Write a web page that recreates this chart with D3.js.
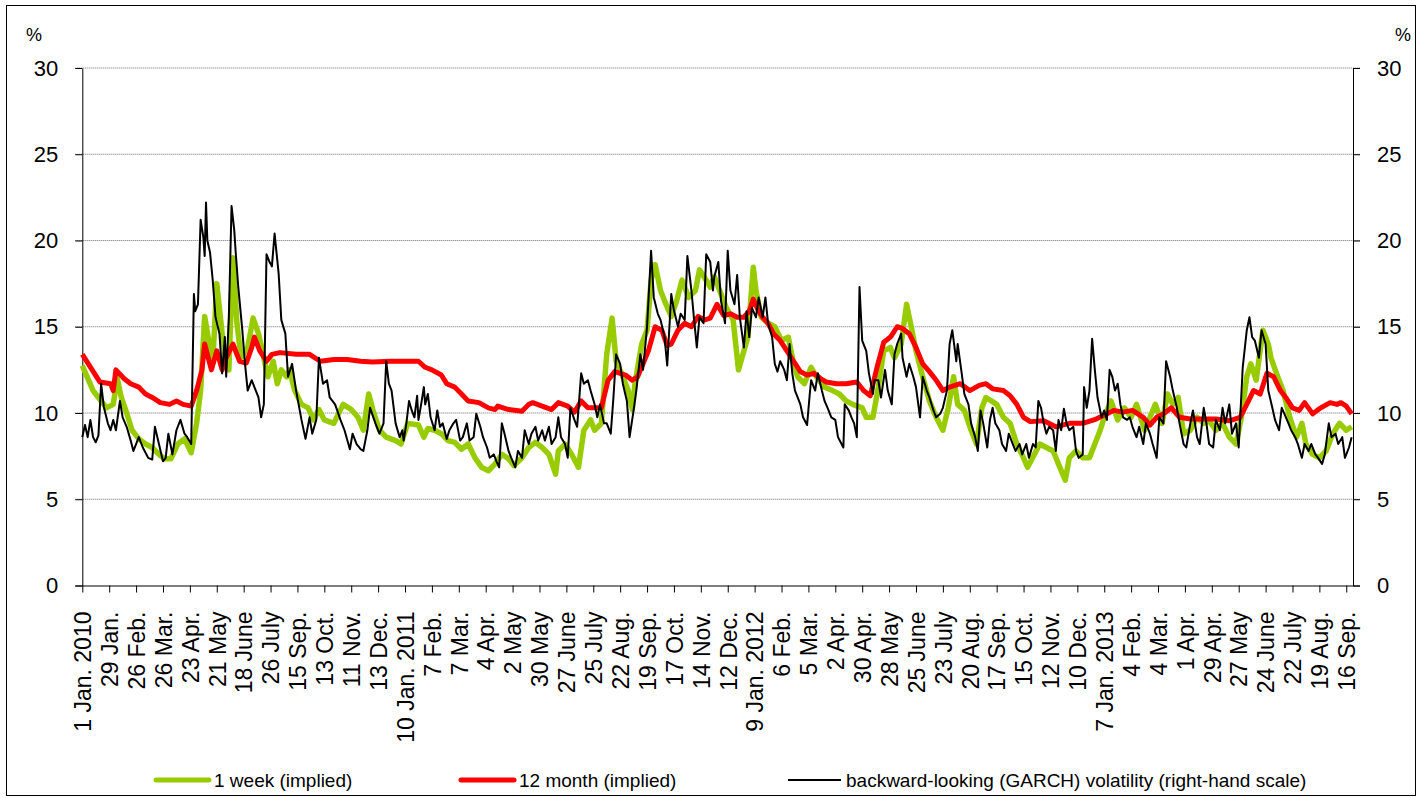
<!DOCTYPE html>
<html>
<head>
<meta charset="utf-8">
<script src="https://cdn.jsdelivr.net/npm/d3@7"></script>
<style>
  html, body { margin: 0; padding: 0; background: #fff; }
  svg { display: block; font-family: "Liberation Sans", Arial, sans-serif; }
</style>
</head>
<body>
<svg id="chart" width="1422" height="798"></svg>
<script>
// ---- Data (trading-day index, value in %) ----
const tickLabels = ["1 Jan. 2010","29 Jan.","26 Feb.","26 Mar.","23 Apr.","21 May","18 June","26 July","15 Sep.","13 Oct.","11 Nov.","13 Dec.",
  "10 Jan. 2011","7 Feb.","7 Mar.","4 Apr.","2 May","30 May","27 June","25 July","22 Aug.","19 Sep.","17 Oct.","14 Nov.","12 Dec.",
  "9 Jan. 2012","6 Feb.","5 Mar.","2 Apr.","30 Apr.","28 May","25 June","23 July","20 Aug.","17 Sep.","15 Oct.","12 Nov.","10 Dec.",
  "7 Jan. 2013","4 Feb.","4 Mar.","1 Apr.","29 Apr.","27 May","24 June","22 July","19 Aug.","16 Sep."];
const daysPerTick = 20;
const lastDay = 945;
const yTicks = [0, 5, 10, 15, 20, 25, 30];

const week1 = [[0,12.75],[8,11.3],[12,10.9],[18,10.3],[23,10.5],[26,12.0],[29,10.9],[33,10.0],[37,9.0],[42,8.5],[47,8.2],[52,8.0],[57,7.6],[61,7.35],[66,7.35],[71,8.2],[76,8.5],[81,7.7],[85,9.4],[88,11.3],[91,15.6],[94,14.2],[97,12.85],[100,17.5],[104,14.6],[107,12.85],[109,12.5],[112,19.0],[115,15.2],[118,13.2],[123,13.8],[127,15.5],[131,14.6],[135,13.2],[138,12.1],[142,13.0],[145,11.7],[148,12.5],[152,12.1],[154,12.5],[158,11.3],[163,10.5],[168,10.3],[172,9.6],[176,10.2],[180,9.6],[187,9.4],[194,10.5],[200,10.2],[205,9.75],[209,9.0],[213,11.1],[216,10.2],[221,9.0],[226,8.6],[233,8.4],[237,8.2],
  [242,9.4],[250,9.3],[254,8.6],[257,9.1],[262,9.0],[267,8.8],[272,8.4],[277,8.3],[282,7.9],[287,8.2],[292,7.4],[297,6.85],[302,6.65],[307,7.05],[312,7.6],[317,7.35],[321,6.95],[327,7.4],[332,8.0],[337,8.3],[342,8.0],[347,7.6],[352,6.45],[354,7.8],[359,8.2],[364,7.6],[369,6.85],[373,9.0],[378,9.6],[381,9.0],[386,9.4],[390,13.4],[394,15.5],[397,13.0],[401,12.3],[406,11.3],[409,10.2],[411,11.7],[416,14.0],[420,14.8],[423,17.7],[426,18.6],[430,17.1],[433,16.5],[438,15.6],[442,16.5],[446,17.7],[451,16.7],[456,17.1],[459,18.3],[464,17.7],
  [467,17.3],[470,17.9],[474,17.1],[479,16.1],[484,15.4],[488,12.5],[492,13.6],[495,14.4],[499,18.45],[501,17.1],[505,15.55],[510,15.2],[515,15.0],[520,14.2],[525,14.4],[529,12.85],[532,12.1],[537,11.7],[542,12.65],[546,12.1],[552,11.5],[558,11.3],[563,11.1],[568,10.7],[573,10.5],[580,10.3],[583,9.75],[588,9.75],[592,11.5],[596,13.6],[601,13.8],[604,13.2],[609,14.0],[613,16.3],[617,14.8],[620,13.6],[625,12.1],[630,10.7],[635,9.75],[640,9.0],[644,10.3],[648,12.1],[651,10.5],[656,10.15],[661,9.0],[665,8.2],[669,10.3],[672,10.9],[676,10.7],[680,10.5],[685,9.75],[690,9.4],[695,8.2],[700,7.4],[703,6.85],
  [708,7.6],[712,8.2],[717,8.0],[722,7.8],[727,6.85],[731,6.1],[734,7.4],[739,7.8],[744,7.4],[749,7.4],[753,8.2],[757,9.0],[760,9.75],[765,10.7],[770,9.6],[775,10.3],[780,9.75],[784,10.5],[790,9.0],[794,9.75],[798,10.5],[803,9.4],[807,11.1],[811,10.5],[815,10.9],[819,8.8],[824,9.0],[829,9.75],[834,9.4],[838,9.55],[843,9.0],[848,9.4],[853,8.6],[858,8.2],[862,9.75],[866,12.1],[869,12.85],[873,11.9],[878,14.8],[882,14.0],[884,13.2],[889,12.1],[893,11.3],[898,9.75],[903,8.6],[907,9.4],[910,8.2],[915,7.6],[920,7.4],[925,7.8],[930,8.8],[935,9.4],[940,9.0],[944,9.2]];

const month12 = [[0,13.4],[13,11.8],[21,11.7],[23,11.3],[25,12.5],[31,12.0],[36,11.7],[42,11.5],[47,11.1],[52,10.9],[58,10.6],[65,10.5],[70,10.7],[75,10.5],[81,10.4],[85,11.3],[89,12.5],[91,14.0],[96,12.5],[100,13.6],[104,12.5],[107,13.2],[112,14.0],[117,13.0],[122,12.9],[126,13.8],[128,14.4],[132,13.6],[137,13.0],[141,13.4],[147,13.5],[159,13.4],[169,13.4],[177,13.0],[187,13.1],[197,13.1],[207,13.0],[216,12.95],[229,13.0],[236,13.0],
  [250,13.0],[255,12.65],[260,12.5],[267,12.2],[271,11.7],[277,11.5],[282,11.1],[287,10.7],[295,10.6],[302,10.3],[307,10.2],[309,10.4],[317,10.2],[327,10.1],[332,10.5],[335,10.6],[342,10.4],[349,10.2],[354,10.6],[361,10.4],[366,10.05],[371,10.7],[376,10.3],[386,10.3],[391,11.9],[396,12.4],[404,12.2],[409,11.9],[413,12.1],[417,12.85],[421,13.6],[426,15.0],[431,14.8],[435,13.9],[438,14.0],[443,14.8],[448,15.2],[453,15.0],[458,15.6],[463,15.4],[467,15.5],
  [472,16.3],[477,15.65],[482,15.75],[487,15.55],[492,15.55],[496,15.9],[499,16.6],[503,15.9],[506,15.55],[510,15.2],[514,14.6],[519,14.2],[524,13.6],[529,13.0],[534,12.4],[539,12.2],[544,12.3],[549,12.0],[553,11.8],[561,11.7],[568,11.7],[576,11.8],[581,11.3],[586,11.0],[591,12.65],[596,14.1],[601,14.4],[606,15.0],[610,14.9],[615,14.6],[620,13.8],[625,12.85],[630,12.4],[635,11.9],[640,11.3],[645,11.5],[653,11.7],[660,11.3],[667,11.6],[672,11.7],[677,11.4],[685,11.3],[690,11.0],[695,10.5],[700,9.75],[705,9.5],
  [715,9.55],[724,9.2],[734,9.4],[744,9.4],[754,9.65],[762,9.95],[767,10.15],[774,10.05],[781,10.15],[789,9.75],[794,9.3],[799,9.75],[804,9.95],[810,10.3],[816,9.75],[824,9.65],[834,9.65],[843,9.65],[853,9.55],[861,9.75],[866,10.5],[871,11.3],[876,11.1],[881,12.3],[886,12.1],[891,11.3],[895,10.9],[900,10.3],[905,10.15],[909,10.6],[915,9.95],[920,10.25],[928,10.6],[933,10.5],[936,10.6],[940,10.4],[944,9.95]];

const garch = [[0,8.6],[2,9.3],[4,8.6],[6,9.6],[8,8.6],[10,8.3],[12,8.7],[14,11.7],[16,10.35],[19,9.4],[21,9.0],[23,9.6],[25,9.0],[28,10.7],[30,9.75],[33,9.2],[36,8.4],[38,7.8],[40,8.2],[42,8.6],[45,8.0],[49,7.4],[52,7.3],[54,9.2],[57,8.2],[60,7.2],[62,7.4],[64,8.8],[67,7.6],[70,9.0],[73,9.6],[76,8.8],[78,8.6],[81,8.2],[83,16.9],[84,15.9],[86,16.3],[88,21.2],[90,20.2],[91,19.1],[92,22.2],[93,20.0],[95,19.3],[97,17.7],[99,15.6],[102,14.6],[104,12.3],[106,14.4],[107,12.1],[109,15.6],[111,22.0],[113,20.6],[114,19.4],[116,17.3],[119,14.8],[121,12.85],[123,11.3],[126,11.9],[128,11.5],[131,10.9],[133,9.75],[135,10.5],[137,19.2],[139,18.8],[141,18.5],[143,20.4],[146,18.1],[148,15.4],[151,14.6],[153,12.1],[156,12.85],[159,11.3],[163,9.6],[166,8.5],[169,9.75],[171,8.8],[174,9.6],[176,13.2],[179,11.7],[182,11.9],[184,10.9],[188,10.5],[192,9.6],[195,9.0],[199,7.9],[201,8.8],[204,8.2],[207,7.9],[209,7.8],[212,9.0],[214,10.3],[218,9.4],[221,8.8],[224,9.4],[226,13.0],[228,11.7],[230,11.3],[233,9.4],[236,8.6],
  [238,9.0],[239,8.4],[241,9.4],[243,10.7],[245,10.15],[247,9.75],[249,11.0],[250,9.6],[252,10.5],[254,11.5],[255,10.5],[257,11.1],[259,9.75],[262,9.0],[264,10.15],[266,9.2],[268,9.4],[271,8.5],[273,9.0],[276,9.4],[278,9.6],[281,8.4],[283,8.6],[286,9.4],[288,8.4],[291,8.6],[293,9.95],[296,9.2],[298,8.6],[301,8.0],[303,7.4],[306,7.6],[308,7.2],[310,6.85],[312,9.4],[314,8.8],[317,7.8],[319,7.4],[322,6.85],[324,7.8],[327,7.4],[329,9.0],[332,8.2],[334,8.8],[337,9.2],[339,8.4],[342,9.0],[344,8.4],[347,9.2],[349,8.2],[352,8.6],[354,9.75],[356,8.6],[359,8.2],[361,7.4],[363,10.3],[366,9.6],[368,9.2],[371,12.3],[373,11.7],[376,11.9],[378,11.3],[381,10.5],[383,9.75],[385,10.5],[388,9.4],[390,9.4],[393,8.8],[395,10.9],[397,13.4],[400,12.85],[402,11.7],[405,10.7],[407,8.6],[410,10.15],[412,11.3],[415,13.4],[417,12.5],[420,15.0],[423,19.4],[425,16.7],[428,15.75],[430,15.4],[433,14.4],[435,12.75],[438,16.9],[440,15.95],[443,15.0],[445,15.75],[448,15.4],[450,19.1],[453,17.1],[455,15.4],[457,13.8],[459,15.55],[462,15.2],[464,19.2],
  [467,18.75],[469,17.1],[470,17.9],[473,18.75],[475,16.5],[478,15.2],[480,19.4],[482,17.1],[485,16.3],[487,18.0],[489,15.55],[492,13.8],[494,15.9],[496,14.4],[498,16.1],[501,15.55],[503,16.7],[506,15.55],[508,16.7],[510,15.2],[513,14.4],[515,12.85],[517,12.4],[519,13.0],[522,12.5],[524,11.9],[526,14.0],[528,12.3],[530,11.3],[532,10.9],[534,10.5],[536,9.75],[539,9.3],[541,11.1],[542,11.9],[545,11.3],[547,12.3],[550,11.3],[552,10.7],[555,10.15],[557,9.75],[560,9.6],[562,8.6],[566,8.0],[567,10.5],[570,10.15],[572,9.75],[574,9.4],[576,8.6],[578,17.3],[580,14.2],[583,13.6],[585,12.3],[588,11.1],[589,11.9],[592,11.9],[594,10.9],[597,12.5],[599,11.3],[602,10.5],[604,13.4],[606,14.0],[609,14.6],[610,13.2],[613,12.1],[615,12.85],[618,12.1],[620,11.5],[623,9.75],[625,12.1],[628,11.3],[630,10.9],[633,10.15],[635,9.75],[638,9.95],[640,10.3],[643,11.3],[645,14.0],[647,14.8],[650,13.0],[651,14.0],[654,12.3],[656,11.1],[659,10.5],[661,9.4],[664,8.6],[666,7.8],[668,10.15],[670,9.4],[673,8.0],[675,9.6],[677,10.3],[679,9.4],[682,9.0],[684,8.2],[687,7.8],[689,8.8],[692,8.2],[694,7.8],[697,8.2],[699,7.6],[702,8.2],[704,7.4],
  [707,8.2],[709,8.0],[711,10.7],[713,10.3],[715,9.4],[717,8.8],[719,9.2],[722,9.0],[724,7.8],[726,9.6],[728,9.0],[730,10.25],[732,9.4],[734,9.0],[737,9.2],[739,7.8],[741,7.4],[744,7.6],[745,11.5],[747,10.3],[749,11.3],[751,14.3],[753,12.5],[755,10.9],[758,9.75],[760,10.15],[762,9.6],[764,12.5],[766,12.1],[768,11.3],[770,11.7],[772,10.5],[774,9.75],[777,9.6],[779,9.75],[781,9.2],[784,8.6],[786,9.2],[789,8.2],[791,9.4],[794,8.8],[796,8.2],[799,7.4],[801,9.75],[804,9.4],[806,13.0],[809,12.1],[811,11.3],[814,10.3],[816,9.4],[819,8.2],[821,8.0],[824,9.4],[826,10.15],[829,8.6],[831,8.2],[834,10.3],[836,9.4],[838,8.2],[841,8.0],[843,9.6],[846,9.0],[848,10.3],[850,9.4],[853,10.5],[855,8.8],[858,9.4],[860,8.0],[863,12.65],[866,14.8],[868,15.55],[870,14.4],[872,14.2],[875,13.2],[877,14.8],[880,14.0],[882,11.3],[885,10.3],[887,9.6],[890,9.0],[892,10.3],[894,9.95],[897,9.4],[899,9.0],[902,8.6],[904,8.2],[907,7.4],[909,8.2],[912,7.8],[914,8.2],[917,7.6],[919,7.4],[922,7.05],[924,7.6],[927,9.4],[929,8.6],[932,8.8],[934,8.2],[937,8.6],[939,7.4],[942,8.0],[944,8.6]];

const legendItems = [
  {label: "1 week (implied)", color: "#99cc00", width: 5},
  {label: "12 month (implied)", color: "#ff0000", width: 5},
  {label: "backward-looking (GARCH) volatility (right-hand scale)", color: "#000000", width: 2}
];

// ---- Layout ----
const svg = d3.select("#chart");
const plotLeft = 82.3, plotRight = 1353, plotTop = 68, plotBottom = 585.5;

svg.append("rect").attr("x", 0).attr("y", 0).attr("width", 1422).attr("height", 798).attr("fill", "#fff");
svg.append("rect").attr("x", 6.5).attr("y", 5.5).attr("width", 1409).attr("height", 790)
  .attr("fill", "none").attr("stroke", "#000").attr("stroke-width", 1);

const x = d3.scaleLinear().domain([0, lastDay]).range([plotLeft, plotRight]);
const yL = d3.scaleLinear().domain([0, 30]).range([plotBottom, plotTop]);
const yR = d3.scaleLinear().domain([0, 30]).range([plotBottom, plotTop]);

// gridlines
svg.append("g").selectAll("line").data(yTicks.filter(v => v > 0)).join("line")
  .attr("x1", plotLeft - 7).attr("x2", plotRight + 7)
  .attr("y1", d => yL(d)).attr("y2", d => yL(d))
  .attr("stroke", "#6e6e6e").attr("stroke-width", 1).attr("stroke-dasharray", "1,1");

// axes
const axL = svg.append("g").attr("transform", `translate(${plotLeft},0)`)
  .call(d3.axisLeft(yL).tickValues(yTicks).tickSize(7).tickPadding(17).tickSizeOuter(0));
const axR = svg.append("g").attr("transform", `translate(${plotRight},0)`)
  .call(d3.axisRight(yR).tickValues(yTicks).tickSize(7).tickPadding(17).tickSizeOuter(0));
[axL, axR].forEach(a => {
  a.select(".domain").attr("stroke", "#000");
  a.selectAll(".tick line").attr("stroke", "#000");
  a.selectAll("text").attr("font-size", 22).attr("fill", "#000")
    .attr("font-family", "'Liberation Sans', Arial, sans-serif");
});

const axB = svg.append("g").attr("transform", `translate(0,${plotBottom})`)
  .call(d3.axisBottom(x).tickValues(d3.range(tickLabels.length).map(i => i * daysPerTick))
    .tickFormat((d, i) => tickLabels[i]).tickSize(7).tickSizeOuter(0));
axB.select(".domain").attr("d", `M${plotLeft - 7},0.5H${plotRight + 7}`).attr("stroke", "#000");
axB.selectAll(".tick line").attr("stroke", "#000");
axB.selectAll("text")
  .attr("transform", "rotate(-90)")
  .attr("text-anchor", "end")
  .attr("x", -26).attr("y", 0).attr("dy", "0.36em")
  .attr("font-size", 23).attr("fill", "#000")
  .attr("font-family", "'Liberation Sans', Arial, sans-serif");

// % labels
svg.append("text").attr("x", 26).attr("y", 41).attr("font-size", 18).text("%");
svg.append("text").attr("x", 1395).attr("y", 41).attr("font-size", 18).text("%");

// series
const lineL = d3.line().x(d => x(d[0])).y(d => yL(d[1]));
const lineR = d3.line().x(d => x(d[0])).y(d => yR(d[1]));
svg.append("path").datum(week1).attr("d", lineL).attr("fill", "none")
  .attr("stroke", legendItems[0].color).attr("stroke-width", 5.5).attr("stroke-linejoin", "round");
svg.append("path").datum(month12).attr("d", lineL).attr("fill", "none")
  .attr("stroke", legendItems[1].color).attr("stroke-width", 5).attr("stroke-linejoin", "round");
svg.append("path").datum(garch).attr("d", lineR).attr("fill", "none")
  .attr("stroke", legendItems[2].color).attr("stroke-width", 2).attr("stroke-linejoin", "round");

// legend
const legendX = [156, 461, 788];
const lg = svg.append("g");
legendItems.forEach((it, i) => {
  lg.append("line").attr("x1", legendX[i]).attr("x2", legendX[i] + 53).attr("y1", 780).attr("y2", 780)
    .attr("stroke", it.color).attr("stroke-width", it.width).attr("stroke-linecap", it.width > 2 ? "round" : "butt");
  lg.append("text").attr("x", legendX[i] + 58).attr("y", 780).attr("dy", "0.35em")
    .attr("font-size", 19).attr("fill", "#000").text(it.label);
});
</script>
</body>
</html>
